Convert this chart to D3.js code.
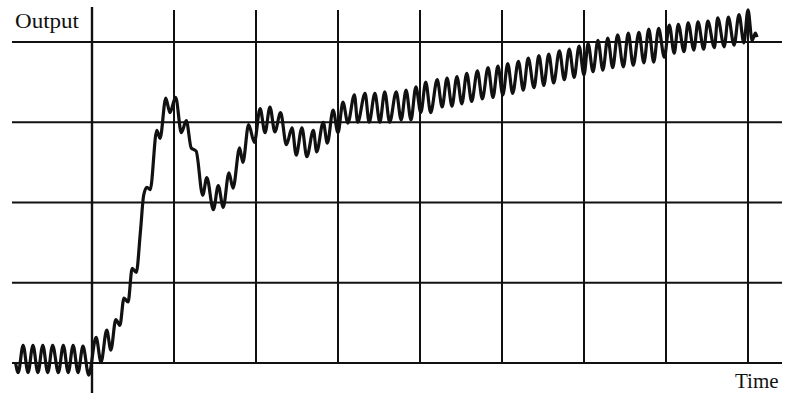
<!DOCTYPE html>
<html>
<head>
<meta charset="utf-8">
<script src="https://cdn.jsdelivr.net/npm/d3@7"></script>
<style>
  body { margin: 0; background: #fff; }
  svg { display: block; }
</style>
</head>
<body>
<div id="chart"></div>
<script>
// grid ticks (time units / output units)
const timeTicks = [1, 2, 3, 4, 5, 6, 7, 8];
const outputTicks = [0, 1, 2, 3, 4];

// turning points of the response
const time = [
  -0.93, -0.90, -0.84, -0.78, -0.72, -0.66, -0.60, -0.54, -0.48, -0.41, -0.35, -0.29, -0.23, -0.17, -0.11, -0.04,
  0.05, 0.11, 0.18, 0.23, 0.29, 0.34, 0.39, 0.44, 0.49, 0.54, 0.59, 0.63, 0.67, 0.71,
  0.79, 0.83, 0.90, 0.95, 1.02, 1.09, 1.15, 1.21, 1.27, 1.35, 1.40, 1.48, 1.54, 1.60, 1.67, 1.72,
  1.80, 1.84, 1.91, 1.98, 2.05, 2.11, 2.17, 2.23, 2.30, 2.37, 2.44, 2.49, 2.56, 2.62, 2.70, 2.74,
  2.82, 2.87, 2.94, 3.00, 3.06, 3.12, 3.20, 3.24, 3.33, 3.38, 3.45, 3.51, 3.57, 3.63, 3.71, 3.77,
  3.83, 3.89, 3.95, 4.01, 4.07, 4.13, 4.21, 4.27, 4.33, 4.39, 4.45, 4.51, 4.57, 4.63, 4.70, 4.76,
  4.83, 4.89, 4.95, 5.01, 5.07, 5.13, 5.20, 5.26, 5.32, 5.39, 5.45, 5.51, 5.57, 5.63, 5.70, 5.76,
  5.82, 5.88, 5.94, 6.00, 6.05, 6.11, 6.17, 6.23, 6.29, 6.35, 6.41, 6.48, 6.54, 6.60, 6.67, 6.73,
  6.79, 6.85, 6.91, 6.98, 7.04, 7.10, 7.15, 7.22, 7.27, 7.34, 7.39, 7.46, 7.51, 7.59, 7.63, 7.71,
  7.76, 7.83, 7.89, 7.95, 8.00, 8.05, 8.09, 8.11
];
const output = [
  -0.01, -0.12, 0.22, -0.12, 0.22, -0.12, 0.22, -0.12, 0.22, -0.12, 0.22, -0.12, 0.22, -0.12, 0.21, -0.15,
  0.32, 0.01, 0.41, 0.16, 0.54, 0.47, 0.81, 0.76, 1.18, 1.13, 1.63, 2.09, 2.19, 2.16,
  2.90, 2.80, 3.30, 3.12, 3.31, 2.87, 3.02, 2.68, 2.64, 2.09, 2.31, 1.91, 2.21, 1.94, 2.37, 2.18,
  2.68, 2.50, 2.97, 2.75, 3.17, 2.87, 3.19, 2.88, 3.12, 2.72, 2.93, 2.59, 2.93, 2.57, 2.90, 2.63,
  3.00, 2.74, 3.15, 2.87, 3.25, 2.99, 3.34, 3.00, 3.36, 3.00, 3.36, 3.00, 3.38, 3.00, 3.38, 3.03,
  3.40, 3.03, 3.44, 3.12, 3.50, 3.12, 3.53, 3.19, 3.55, 3.20, 3.57, 3.23, 3.61, 3.26, 3.64, 3.29,
  3.68, 3.31, 3.70, 3.34, 3.73, 3.36, 3.76, 3.40, 3.80, 3.43, 3.83, 3.46, 3.85, 3.49, 3.89, 3.53,
  3.91, 3.56, 3.95, 3.59, 3.98, 3.63, 4.02, 3.65, 4.05, 3.68, 4.09, 3.69, 4.11, 3.71, 4.12, 3.74,
  4.16, 3.75, 4.17, 3.81, 4.21, 3.86, 4.22, 3.88, 4.24, 3.90, 4.25, 3.91, 4.26, 3.93, 4.30, 3.94,
  4.31, 3.96, 4.34, 3.99, 4.40, 4.02, 4.11, 4.06
];

const width = 786, height = 393;
const ink = "#111";

const svg = d3.select("#chart").append("svg")
  .attr("width", width)
  .attr("height", height);

const x = d3.scaleLinear().domain([0, 8]).range([92, 748]);
const y = d3.scaleLinear().domain([0, 4]).range([363, 42]);

// horizontal grid, the zero line doubles as the time axis
svg.append("g")
  .selectAll("line")
  .data(outputTicks)
  .join("line")
    .attr("x1", 12)
    .attr("x2", 782)
    .attr("y1", d => y(d))
    .attr("y2", d => y(d))
    .attr("stroke", ink)
    .attr("stroke-width", 2);

// vertical grid
svg.append("g")
  .selectAll("line")
  .data(timeTicks)
  .join("line")
    .attr("x1", d => x(d))
    .attr("x2", d => x(d))
    .attr("y1", 10)
    .attr("y2", y(0))
    .attr("stroke", ink)
    .attr("stroke-width", 2);

// output axis
svg.append("line")
  .attr("x1", x(0)).attr("x2", x(0))
  .attr("y1", 7).attr("y2", 400)
  .attr("stroke", ink)
  .attr("stroke-width", 2.4);

const points = time.map((t, i) => [t, output[i]]);

const line = d3.line()
  .x(d => x(d[0]))
  .y(d => y(d[1]))
  .curve(d3.curveMonotoneX);

svg.append("path")
  .datum(points)
  .attr("d", line)
  .attr("fill", "none")
  .attr("stroke", ink)
  .attr("stroke-width", 3.2)
  .attr("stroke-linejoin", "round");

svg.append("text")
  .attr("x", 15)
  .attr("y", 28)
  .attr("font-family", "'Liberation Serif', 'DejaVu Serif', serif")
  .attr("font-size", 20)
  .attr("textLength", 64)
  .attr("lengthAdjust", "spacingAndGlyphs")
  .attr("fill", ink)
  .text("Output");

svg.append("text")
  .attr("x", 735)
  .attr("y", 388)
  .attr("font-family", "'Liberation Serif', 'DejaVu Serif', serif")
  .attr("font-size", 21)
  .attr("fill", ink)
  .text("Time");
</script>
</body>
</html>
